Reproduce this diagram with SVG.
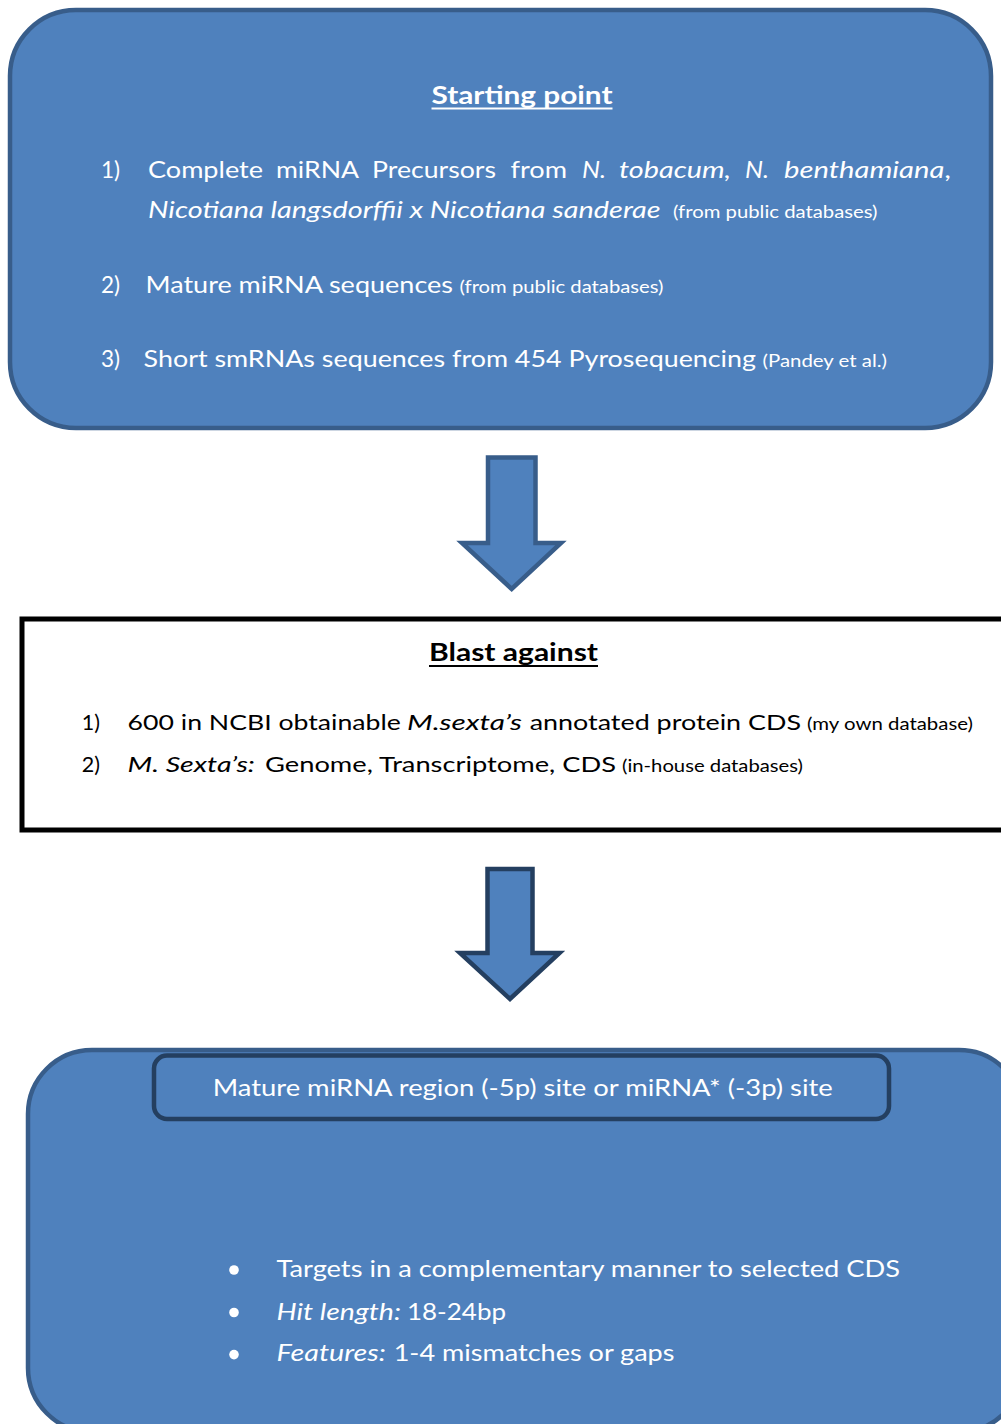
<svg xmlns="http://www.w3.org/2000/svg" width="1001" height="1424" viewBox="0 0 1001 1424">
<style>
.w{fill:#ffffff;font-family:Lato,"Open Sans","Liberation Sans",sans-serif}
.k{fill:#000000;font-family:Lato,"Open Sans","Liberation Sans",sans-serif}
.b{font-weight:bold}
.i{font-style:italic}
.shape{fill:#4f81bd;stroke:#385d8a;stroke-width:4.5;stroke-linejoin:miter}
.dark{fill:#4f81bd;stroke:#243f60;stroke-width:4.5}
</style>
<rect width="1001" height="1424" fill="#ffffff"/>

<g id="node-start">
<rect class="shape" x="10" y="10" width="981" height="418" rx="66" ry="66"/>
<text class="w b" x="431.5" y="103.5" font-size="25" textLength="181" lengthAdjust="spacingAndGlyphs">Starting point</text>
<rect x="431.5" y="107.5" width="181" height="2" fill="#ffffff"/>

<text class="w" x="101" y="177.5" font-size="22.5">1)</text>
<text class="w" x="148" y="177.5" font-size="22.5" textLength="115" lengthAdjust="spacingAndGlyphs">Complete</text>
<text class="w" x="276" y="177.5" font-size="22.5" textLength="83" lengthAdjust="spacingAndGlyphs">miRNA</text>
<text class="w" x="372" y="177.5" font-size="22.5" textLength="124" lengthAdjust="spacingAndGlyphs">Precursors</text>
<text class="w" x="510.5" y="177.5" font-size="22.5" textLength="56.5" lengthAdjust="spacingAndGlyphs">from</text>
<text class="w i" x="582" y="177.5" font-size="22.5" textLength="24" lengthAdjust="spacingAndGlyphs">N.</text>
<text class="w i" x="619" y="177.5" font-size="22.5" textLength="112" lengthAdjust="spacingAndGlyphs">tobacum,</text>
<text class="w i" x="745" y="177.5" font-size="22.5" textLength="24" lengthAdjust="spacingAndGlyphs">N.</text>
<text class="w" x="784" y="177.5" font-size="22.5" textLength="167" lengthAdjust="spacingAndGlyphs"><tspan class="i">benthamiana</tspan>,</text>
<text class="w i" x="148" y="218" font-size="22.5" textLength="512.5" lengthAdjust="spacingAndGlyphs">Nicotiana langsdorffii x Nicotiana sanderae</text>
<text class="w" x="673" y="218" font-size="17" textLength="204.5" lengthAdjust="spacingAndGlyphs">(from public databases)</text>

<text class="w" x="101" y="293.3" font-size="22.5">2)</text>
<text class="w" x="145.5" y="293.3" font-size="22.5" textLength="307.5" lengthAdjust="spacingAndGlyphs">Mature miRNA sequences</text>
<text class="w" x="459.5" y="293.3" font-size="17" textLength="204" lengthAdjust="spacingAndGlyphs">(from public databases)</text>

<text class="w" x="101" y="367.3" font-size="22.5">3)</text>
<text class="w" x="143.6" y="367.3" font-size="22.5" textLength="612.4" lengthAdjust="spacingAndGlyphs">Short smRNAs sequences from 454 Pyrosequencing</text>
<text class="w" x="762.6" y="367.3" font-size="17" textLength="124.4" lengthAdjust="spacingAndGlyphs">(Pandey et al.)</text>
</g>

<g id="node-blast">
<rect x="22" y="619" width="1000" height="211" fill="#ffffff" stroke="#000000" stroke-width="5"/>
<text class="k b" x="429" y="660.7" font-size="25" textLength="169" lengthAdjust="spacingAndGlyphs">Blast against</text>
<rect x="429" y="665" width="169" height="2" fill="#000000"/>

<text class="k" x="81.7" y="730" font-size="21.5">1)</text>
<text class="k" x="127.6" y="730" font-size="21.5" textLength="273.2" lengthAdjust="spacingAndGlyphs">600 in NCBI obtainable</text>
<text class="k i" x="407" y="730" font-size="21.5" textLength="115" lengthAdjust="spacingAndGlyphs">M.sexta’s</text>
<text class="k" x="529.7" y="730" font-size="21.5" textLength="271.3" lengthAdjust="spacingAndGlyphs">annotated protein CDS</text>
<text class="k" x="807" y="730" font-size="16.5" textLength="166" lengthAdjust="spacingAndGlyphs">(my own database)</text>

<text class="k" x="81.7" y="771.7" font-size="21.5">2)</text>
<text class="k i" x="127.6" y="771.7" font-size="21.5" textLength="127.4" lengthAdjust="spacingAndGlyphs">M. Sexta’s:</text>
<text class="k" x="265" y="771.7" font-size="21.5" textLength="351" lengthAdjust="spacingAndGlyphs">Genome, Transcriptome, CDS</text>
<text class="k" x="622" y="771.7" font-size="16.5" textLength="181" lengthAdjust="spacingAndGlyphs">(in-house databases)</text>
</g>

<g id="node-result">
<rect class="shape" x="28" y="1050" width="995" height="382" rx="64" ry="64"/>
<g id="node-region">
<rect class="dark" x="154" y="1055.5" width="735" height="63.5" rx="13" ry="13"/>
<text class="w" x="212.7" y="1096" font-size="24" textLength="620" lengthAdjust="spacingAndGlyphs">Mature miRNA region (-5p) site or miRNA* (-3p) site</text>
</g>
<circle cx="234" cy="1270" r="4.8" fill="#ffffff"/>
<circle cx="234" cy="1312.5" r="4.8" fill="#ffffff"/>
<circle cx="234" cy="1354.6" r="4.8" fill="#ffffff"/>
<text class="w" x="276.5" y="1277.3" font-size="24" textLength="623.5" lengthAdjust="spacingAndGlyphs">Targets in a complementary manner to selected CDS</text>
<text class="w i" x="276.5" y="1320" font-size="24" textLength="124.5" lengthAdjust="spacingAndGlyphs">Hit length:</text>
<text class="w" x="407" y="1320" font-size="24" textLength="99" lengthAdjust="spacingAndGlyphs">18-24bp</text>
<text class="w i" x="276.5" y="1361" font-size="24" textLength="109.5" lengthAdjust="spacingAndGlyphs">Features:</text>
<text class="w" x="393.7" y="1361" font-size="24" textLength="280.8" lengthAdjust="spacingAndGlyphs">1-4 mismatches or gaps</text>
</g>

<g id="connectors">
<path class="shape" d="M488,457.5 L535.5,457.5 L535.5,543 L561,543 L511.7,589 L462,543 L488,543 Z"/>
<path class="dark" d="M487.5,869 L532.5,869 L532.5,953 L559.5,953 L510,999 L460,953 L487.5,953 Z"/>
</g>
</svg>
